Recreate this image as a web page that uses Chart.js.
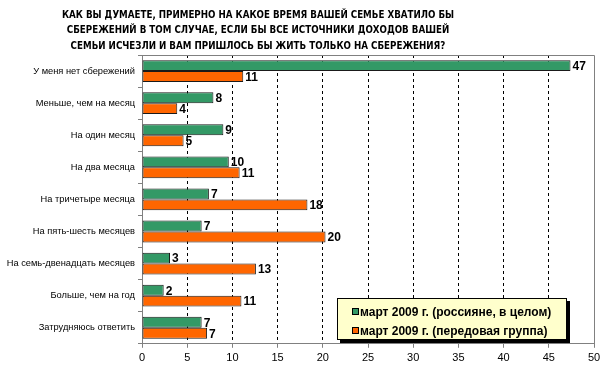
<!DOCTYPE html>
<html>
<head>
<meta charset="utf-8">
<script src="https://cdn.jsdelivr.net/npm/chart.js@4"></script>
<style>
html,body{margin:0;padding:0;background:#fff;}
#wrap{width:611px;height:380px;position:relative;}
</style>
</head>
<body>
<div id="wrap"><canvas id="c" width="611" height="380"></canvas></div>
<script>
const titleLines = [
  "КАК ВЫ ДУМАЕТЕ, ПРИМЕРНО НА КАКОЕ ВРЕМЯ ВАШЕЙ СЕМЬЕ ХВАТИЛО БЫ",
  "СБЕРЕЖЕНИЙ В ТОМ СЛУЧАЕ, ЕСЛИ БЫ ВСЕ ИСТОЧНИКИ ДОХОДОВ ВАШЕЙ",
  "СЕМЬИ ИСЧЕЗЛИ И ВАМ ПРИШЛОСЬ БЫ ЖИТЬ ТОЛЬКО НА СБЕРЕЖЕНИЯ?"
];
const categories = [
  "У меня нет сбережений",
  "Меньше, чем на месяц",
  "На один месяц",
  "На два месяца",
  "На тричетыре месяца",
  "На пять-шесть месяцев",
  "На семь-двенадцать месяцев",
  "Больше, чем на год",
  "Затрудняюсь ответить"
];
const seriesNames = ["март 2009 г. (россияне, в целом)", "март 2009 г. (передовая группа)"];
const russiansAll = [47.4, 7.9, 9.0, 9.6, 7.4, 6.6, 3.1, 2.4, 6.6];
const advancedGroup = [11.2, 3.9, 4.6, 10.8, 18.3, 20.3, 12.6, 11.0, 7.2];
const xTicks = [0, 5, 10, 15, 20, 25, 30, 35, 40, 45, 50];

const GREEN = "#339966", ORANGE = "#FF6600";

const titlePlugin = {
  id: "titleText",
  afterDraw(chart) {
    const ctx = chart.ctx;
    ctx.save();
    ctx.font = "bold 9.7px 'DejaVu Sans Condensed', 'Liberation Sans', Arial, sans-serif";
    ctx.fillStyle = "#000";
    ctx.textAlign = "center";
    ctx.textBaseline = "middle";
    titleLines.forEach((t, i) => ctx.fillText(t, 258, 15 + i * 15.7));
    ctx.restore();
  }
};

const frame = {
  id: "frame",
  beforeDatasetsDraw(chart) {
    const {ctx, chartArea: a} = chart;
    ctx.save();
    ctx.strokeStyle = "#808080";
    ctx.lineWidth = 1;
    ctx.setLineDash([]);
    ctx.beginPath();
    ctx.moveTo(Math.round(a.left) + 0.5, Math.round(a.top) + 0.5);
    ctx.lineTo(Math.round(a.right) + 0.5, Math.round(a.top) + 0.5);
    ctx.lineTo(Math.round(a.right) + 0.5, Math.round(a.bottom) + 0.5);
    ctx.stroke();
    ctx.restore();
  }
};

const valueLabels = {
  id: "valueLabels",
  afterDatasetsDraw(chart) {
    const ctx = chart.ctx;
    ctx.save();
    ctx.font = "bold 12px 'Liberation Sans', Arial, sans-serif";
    ctx.fillStyle = "#000";
    ctx.textAlign = "left";
    ctx.textBaseline = "middle";
    chart.data.datasets.forEach((ds, di) => {
      const meta = chart.getDatasetMeta(di);
      meta.data.forEach((bar, i) => {
        ctx.fillText(String(Math.round(ds.data[i])), bar.x + 2, bar.y + 1);
      });
    });
    ctx.restore();
  }
};

const boxLegend = {
  id: "boxLegend",
  afterDraw(chart) {
    const ctx = chart.ctx;
    const x = 337, y = 298, w = 230, h = 42;
    ctx.save();
    ctx.fillStyle = "#000";
    ctx.fillRect(x + 3, y + 3, w, h);
    ctx.fillStyle = "#FFFFCC";
    ctx.fillRect(x, y, w, h);
    ctx.strokeStyle = "#000";
    ctx.lineWidth = 1;
    ctx.strokeRect(x + 0.5, y + 0.5, w - 1, h - 1);
    ctx.font = "bold 12px 'Liberation Sans', Arial, sans-serif";
    ctx.textBaseline = "middle";
    ctx.textAlign = "left";
    chart.data.datasets.forEach((ds, i) => {
      const cy = y + 14 + i * 19;
      ctx.fillStyle = ds.backgroundColor;
      ctx.fillRect(x + 15, cy - 4, 7, 7);
      ctx.strokeStyle = "#000";
      ctx.strokeRect(x + 15.5, cy - 3.5, 6, 6);
      ctx.fillStyle = "#000";
      ctx.fillText(ds.label, x + 23, cy + 1);
    });
    ctx.restore();
  }
};

new Chart(document.getElementById("c"), {
  type: "bar",
  data: {
    labels: categories,
    datasets: [
      {label: seriesNames[0], data: russiansAll, backgroundColor: GREEN, borderColor: "#1a1a1a", borderWidth: 1, borderSkipped: false, categoryPercentage: 0.68, barPercentage: 1.0},
      {label: seriesNames[1], data: advancedGroup, backgroundColor: ORANGE, borderColor: "#1a1a1a", borderWidth: 1, borderSkipped: false, categoryPercentage: 0.68, barPercentage: 1.0}
    ]
  },
  options: {
    indexAxis: "y",
    responsive: false,
    animation: false,
    devicePixelRatio: 1,
    layout: {padding: {left: 0, right: 17, top: 55, bottom: 11}},
    plugins: {
      legend: {display: false},
      tooltip: {enabled: false},
      title: {display: false}
    },
    scales: {
      x: {
        type: "linear",
        position: "bottom",
        min: 0, max: 50,
        afterBuildTicks(axis) { axis.ticks = xTicks.map(v => ({value: v})); },
        grid: {
          color: ctx => (ctx.tick && (ctx.tick.value === 0 || ctx.tick.value === 50)) ? "rgba(0,0,0,0)" : "#000",
          tickColor: "#808080",
          tickBorderDash: [],
          tickLength: 4,
          lineWidth: 1
        },
        border: {display: true, color: "#808080", width: 1, dash: [3, 3]},
        ticks: {color: "#000", padding: 4, font: {family: "'Liberation Sans', Arial, sans-serif", size: 11}}
      },
      y: {
        type: "category",
        afterFit(axis) { axis.width = 142; },
        grid: {drawOnChartArea: false, offset: true, tickLength: 4, color: "#808080"},
        border: {display: true, color: "#808080", width: 1},
        ticks: {color: "#000", padding: 3, font: {family: "'Liberation Sans', Arial, sans-serif", size: 9.3}}
      }
    }
  },
  plugins: [titlePlugin, frame, valueLabels, boxLegend]
});
</script>
</body>
</html>
